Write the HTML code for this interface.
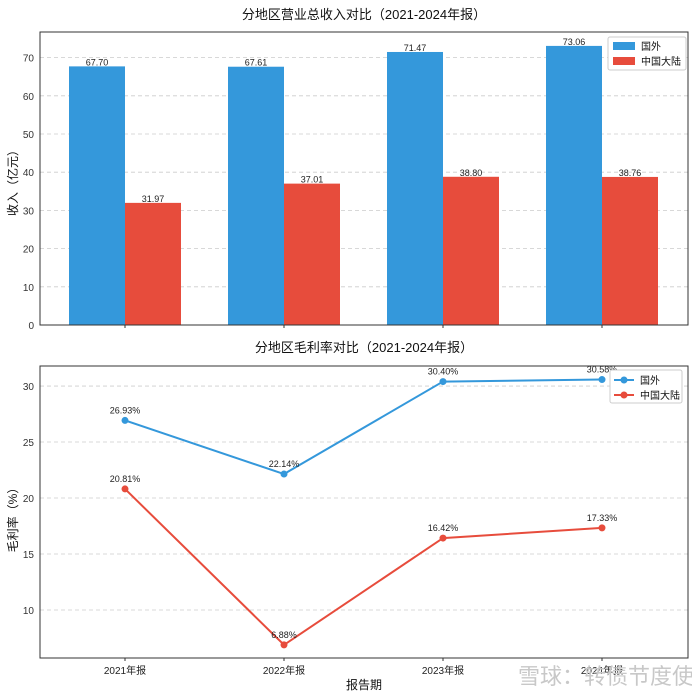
<!DOCTYPE html>
<html><head><meta charset="utf-8"><style>
body{margin:0;background:#fff;}
svg text{font-family:"Liberation Sans","Noto Sans CJK SC",sans-serif;}
</style></head><body>
<svg width="692" height="695" viewBox="0 0 692 695" xmlns="http://www.w3.org/2000/svg">
<g id="topchart"></g>
<g id="botchart"></g>
<text x="518" y="684" fill="#c8c8c8" font-size="22">雪球：转债节度使</text>
</svg>
<script>
const categories=["2021年报","2022年报","2023年报","2024年报"];
const revOverseas=[67.70,67.61,71.47,73.06];
const revMainland=[31.97,37.01,38.80,38.76];
const marginOverseas=[26.93,22.14,30.40,30.58];
const marginMainland=[20.81,6.88,16.42,17.33];
const revTicks=[0,10,20,30,40,50,60,70];
const marginTicks=[10,15,20,25,30];
const seriesNames=["国外","中国大陆"];
const BLUE="#3498db",RED="#e74c3c";
const NS="http://www.w3.org/2000/svg";
function mk(p,tag,a,txt){const e=document.createElementNS(NS,tag);for(const k in a)e.setAttribute(k,a[k]);if(txt!=null)e.textContent=txt;p.appendChild(e);return e;}
const L=40,R=688;
const xc=i=>125+i*159;
const topG=document.getElementById('topchart');
const T0=32,T1=325,ymax=76.7;
const yT=v=>T1-(v/ymax)*(T1-T0);
revTicks.forEach(t=>{
 const g=mk(topG,'line',{x1:L,x2:R,y1:yT(t),y2:yT(t),stroke:'#ccc','stroke-dasharray':'4,3','stroke-width':0.8});
 
 
 const l=mk(topG,'text',{x:L-6,y:yT(t)+4,'text-anchor':'end','font-size':10,fill:'#333'},String(t));
 
 
});
const bw=56;
categories.forEach((c,i)=>{
 [[revOverseas,BLUE,-bw],[revMainland,RED,0]].forEach(([arr,col,off],k)=>{
  const v=arr[i];
  const b=mk(topG,'rect',{x:xc(i)+off,y:yT(v),width:bw,height:T1-yT(v),fill:col});
  
  
  const t=mk(topG,'text',{x:xc(i)+off+bw/2,y:yT(v)-1,'text-anchor':'middle','font-size':9,fill:'#222'},v.toFixed(2));
  
  
 });
 mk(topG,'line',{x1:xc(i),x2:xc(i),y1:T1,y2:T1+3,stroke:'#333'});
});
mk(topG,'rect',{x:L,y:T0,width:R-L,height:T1-T0,fill:'none',stroke:'#333','stroke-width':1});
let e=mk(topG,'text',{x:364,y:19,'text-anchor':'middle','font-size':13,fill:'#111'},'分地区营业总收入对比（2021-2024年报）');


e=mk(topG,'text',{x:17,y:180,'text-anchor':'middle','font-size':12,fill:'#111',transform:'rotate(-90 17 180)'},'收入（亿元）');


const lg1=mk(topG,'g',{});


mk(lg1,'rect',{x:608,y:37,width:78,height:33,fill:'#fff',stroke:'#ccc',rx:2});
[BLUE,RED].forEach((c,k)=>{
 mk(lg1,'rect',{x:613,y:42+k*15,width:22,height:8,fill:c});
 const t=mk(lg1,'text',{x:641,y:50+k*15,'font-size':10,fill:'#111'},seriesNames[k]);
 
 
});
const botG=document.getElementById('botchart');
const B0=366,B1=658,bmin=5.71,bmax=31.79;
const yB=v=>B1-(v-bmin)/(bmax-bmin)*(B1-B0);
marginTicks.forEach(t=>{
 const g=mk(botG,'line',{x1:L,x2:R,y1:yB(t),y2:yB(t),stroke:'#ccc','stroke-dasharray':'4,3','stroke-width':0.8});
 
 
 const l=mk(botG,'text',{x:L-6,y:yB(t)+4,'text-anchor':'end','font-size':10,fill:'#333'},String(t));
 
 
});
categories.forEach((c,i)=>{
 mk(botG,'line',{x1:xc(i),x2:xc(i),y1:B1,y2:B1+3,stroke:'#333'});
 const t=mk(botG,'text',{x:xc(i),y:674,'text-anchor':'middle','font-size':10,fill:'#222'},c);
 
 
});
[[marginOverseas,BLUE],[marginMainland,RED]].forEach(([arr,col],k)=>{
 const p=mk(botG,'polyline',{points:arr.map((v,i)=>xc(i)+','+yB(v)).join(' '),fill:'none',stroke:col,'stroke-width':2});
 
 
 arr.forEach((v,i)=>{
  const c=mk(botG,'circle',{cx:xc(i),cy:yB(v),r:3.5,fill:col});
  
  
  const t=mk(botG,'text',{x:xc(i),y:yB(v)-7,'text-anchor':'middle','font-size':9,fill:'#222'},v.toFixed(2)+'%');
  
  
 });
});
mk(botG,'rect',{x:L,y:B0,width:R-L,height:B1-B0,fill:'none',stroke:'#333','stroke-width':1});
e=mk(botG,'text',{x:364,y:352,'text-anchor':'middle','font-size':13,fill:'#111'},'分地区毛利率对比（2021-2024年报）');


e=mk(botG,'text',{x:17,y:517,'text-anchor':'middle','font-size':12,fill:'#111',transform:'rotate(-90 17 517)'},'毛利率（%）');


e=mk(botG,'text',{x:364,y:689,'text-anchor':'middle','font-size':12,fill:'#111'},'报告期');


const lg2=mk(botG,'g',{});


mk(lg2,'rect',{x:610,y:370,width:72,height:33,fill:'#fff',stroke:'#ccc',rx:2});
[BLUE,RED].forEach((c,k)=>{
 mk(lg2,'line',{x1:614,x2:634,y1:380+k*15,y2:380+k*15,stroke:c,'stroke-width':2});
 mk(lg2,'circle',{cx:624,cy:380+k*15,r:3.5,fill:c});
 const t=mk(lg2,'text',{x:640,y:384+k*15,'font-size':10,fill:'#111'},seriesNames[k]);
 
 
});
</script>
</body></html>
